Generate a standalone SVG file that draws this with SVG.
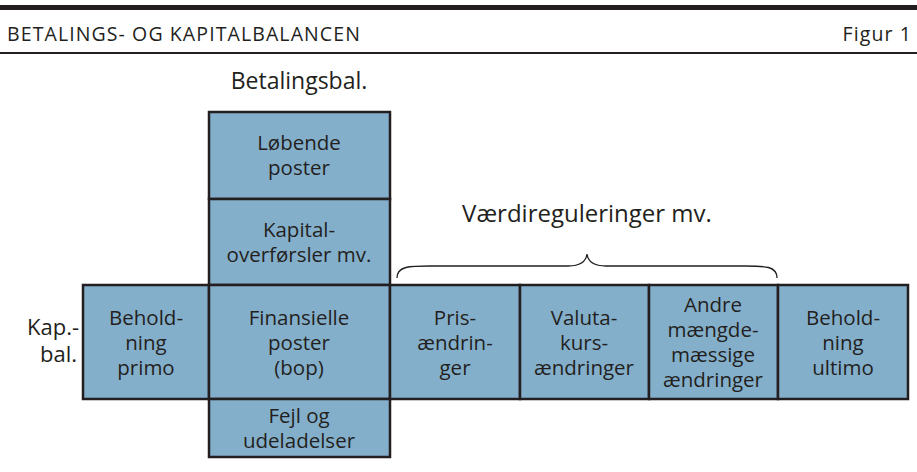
<svg xmlns="http://www.w3.org/2000/svg" width="917" height="472" viewBox="0 0 917 472">
<style>
.box{fill:#84AFCB;stroke:#231F20;stroke-width:2.5}
.t{font-family:"Open Sans","Noto Sans",sans-serif;font-size:20.5px;fill:#231F20;text-anchor:middle}
.h{font-family:"Open Sans","Noto Sans",sans-serif;font-size:19.5px;letter-spacing:1.1px;fill:#231F20}
.l{font-family:"Open Sans","Noto Sans",sans-serif;fill:#231F20;text-anchor:middle}
</style>
<rect x="0" y="5" width="917" height="5" fill="#231F20"/>
<rect x="0" y="52" width="917" height="2" fill="#231F20"/>
<text class="h" x="7" y="41">BETALINGS- OG KAPITALBALANCEN</text>
<text class="h" x="912" y="41" text-anchor="end">Figur 1</text>
<text class="l" x="299" y="89" font-size="23">Betalingsbal.</text>
<text class="l" x="587" y="222" font-size="24">Værdireguleringer mv.</text>
<text class="l" font-size="22" style="text-anchor:end"><tspan x="79" y="335">Kap.-</tspan><tspan x="77" y="362">bal.</tspan></text>
<g id="connectors">
<path d="M397,278 C397,266 410,266 430,266 L568,266 C580,266 586,262 587,254 C588,262 594,266 606,266 L745,266 C765,266 777,266 777,278" fill="none" stroke="#231F20" stroke-width="1.3"/>
</g>
<g id="lobende"><rect class="box" x="209" y="112" width="181" height="87"/><text class="t"><tspan x="299" y="150">Løbende</tspan><tspan x="299" y="175">poster</tspan></text></g>
<g id="kapital"><rect class="box" x="209" y="199" width="181" height="86"/><text class="t"><tspan x="299" y="237">Kapital-</tspan><tspan x="299" y="262">overførsler mv.</tspan></text></g>
<g id="primo"><rect class="box" x="83" y="285" width="126" height="114"/><text class="t"><tspan x="146" y="325">Behold-</tspan><tspan x="146" y="350">ning</tspan><tspan x="146" y="375">primo</tspan></text></g>
<g id="finansielle"><rect class="box" x="209" y="285" width="181" height="114"/><text class="t"><tspan x="299" y="325">Finansielle</tspan><tspan x="299" y="350">poster</tspan><tspan x="299" y="375">(bop)</tspan></text></g>
<g id="fejl"><rect class="box" x="209" y="399" width="181" height="58"/><text class="t"><tspan x="299" y="423">Fejl og</tspan><tspan x="299" y="448">udeladelser</tspan></text></g>
<g id="pris"><rect class="box" x="390" y="285" width="130" height="114"/><text class="t"><tspan x="455" y="325">Pris-</tspan><tspan x="455" y="350">ændrin-</tspan><tspan x="455" y="375">ger</tspan></text></g>
<g id="valuta"><rect class="box" x="520" y="285" width="129" height="114"/><text class="t"><tspan x="584" y="325">Valuta-</tspan><tspan x="584" y="350">kurs-</tspan><tspan x="584" y="375">ændringer</tspan></text></g>
<g id="andre"><rect class="box" x="649" y="285" width="129" height="114"/><text class="t"><tspan x="713" y="312">Andre</tspan><tspan x="713" y="337">mængde-</tspan><tspan x="713" y="362">mæssige</tspan><tspan x="713" y="387">ændringer</tspan></text></g>
<g id="ultimo"><rect class="box" x="778" y="285" width="130" height="114"/><text class="t"><tspan x="843" y="325">Behold-</tspan><tspan x="843" y="350">ning</tspan><tspan x="843" y="375">ultimo</tspan></text></g>
</svg>
